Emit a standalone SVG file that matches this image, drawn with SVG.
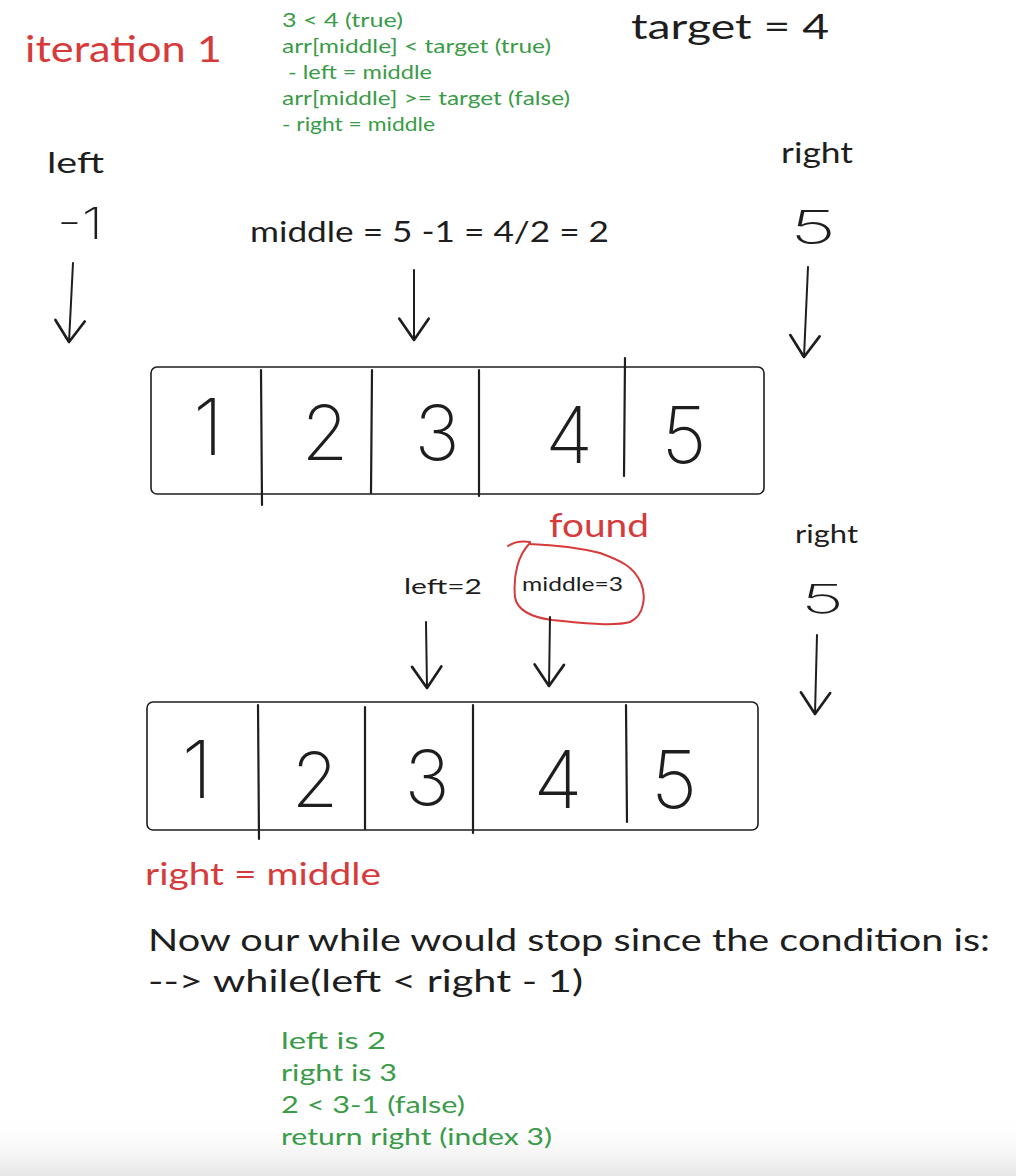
<svg xmlns="http://www.w3.org/2000/svg" width="1016" height="1176" viewBox="0 0 1016 1176">
  <style>
    text { font-family: "Lato", "Noto Sans", "Liberation Sans", sans-serif; }
    .ink { fill: #1e1e1e; }
    .red { fill: #d63a3a; }
    .green { fill: #3a9b48; }
    .digit { font-family: "Inter", "Lato", "Noto Sans", sans-serif; font-weight: 200; fill: #1e1e1e; }
    .box { fill: #ffffff; stroke: #1e1e1e; stroke-width: 1.6; }
    .div { stroke: #1e1e1e; stroke-width: 2.2; stroke-linecap: round; fill: none; }
    .arrow { stroke: #1e1e1e; stroke-width: 2; stroke-linecap: round; fill: none; marker-end: url(#ah); }
  </style>
  <defs>
    <marker id="ah" markerUnits="userSpaceOnUse" markerWidth="40" markerHeight="40" viewBox="-20 -15 25 30" refX="0" refY="0" orient="auto">
      <path d="M-16,-11 L0,0 L-16,11" fill="none" stroke="#1e1e1e" stroke-width="2" stroke-linecap="round" stroke-linejoin="round"/>
    </marker>
    <linearGradient id="shade" x1="0" y1="0" x2="0" y2="1">
      <stop offset="0" stop-color="#ffffff" stop-opacity="0"/>
      <stop offset="1" stop-color="#e6e6e6" stop-opacity="1"/>
    </linearGradient>
  </defs>
  <rect x="0" y="0" width="1016" height="1176" fill="#ffffff"/>
  <rect x="0" y="1115" width="1016" height="61" fill="url(#shade)"/>

  <g id="title">
    <text class="red" x="25" y="62" font-size="36" textLength="197" lengthAdjust="spacingAndGlyphs">iteration 1</text>
  </g>

  <g id="notes-top" font-size="19">
    <text class="green" x="282" y="27" textLength="121" lengthAdjust="spacingAndGlyphs">3 &lt; 4 (true)</text>
    <text class="green" x="282" y="53" textLength="269" lengthAdjust="spacingAndGlyphs">arr[middle] &lt; target (true)</text>
    <text class="green" x="288" y="79" textLength="144" lengthAdjust="spacingAndGlyphs">- left = middle</text>
    <text class="green" x="282" y="105" textLength="288" lengthAdjust="spacingAndGlyphs">arr[middle] &gt;= target (false)</text>
    <text class="green" x="282" y="131" textLength="153" lengthAdjust="spacingAndGlyphs">- right = middle</text>
  </g>

  <g id="target">
    <text class="ink" x="631" y="39" font-size="34" textLength="198" lengthAdjust="spacingAndGlyphs">target = 4</text>
  </g>

  <g id="left-label-1">
    <text class="ink" x="47" y="173" font-size="28" textLength="57" lengthAdjust="spacingAndGlyphs">left</text>
    <text class="digit" x="57" y="239" font-size="44" font-weight="300" textLength="46" lengthAdjust="spacingAndGlyphs">-1</text>
  </g>

  <g id="right-label-1">
    <text class="ink" x="781" y="163" font-size="28" textLength="72" lengthAdjust="spacingAndGlyphs">right</text>
    <text class="digit" x="790" y="244" font-size="46" font-weight="300" textLength="46" lengthAdjust="spacingAndGlyphs">5</text>
  </g>

  <g id="middle-label-1">
    <text class="ink" x="250" y="242" font-size="29" textLength="359" lengthAdjust="spacingAndGlyphs">middle = 5 -1 = 4/2 = 2</text>
  </g>

  <g id="array-1">
    <rect class="box" x="151" y="367" width="613" height="127" rx="6"/>
    <path class="div" d="M261,370 L262,505"/>
    <path class="div" d="M372,370 L371,493"/>
    <path class="div" d="M479,370 L479,496"/>
    <path class="div" d="M625,358 L624,476"/>
    <text class="digit" x="208" y="455" font-size="78" text-anchor="middle">1</text>
    <text class="digit" x="325" y="460" font-size="76" text-anchor="middle">2</text>
    <text class="digit" x="437" y="460" font-size="76" text-anchor="middle">3</text>
    <text class="digit" x="569" y="463" font-size="78" text-anchor="middle">4</text>
    <text class="digit" x="684" y="463" font-size="78" text-anchor="middle">5</text>
  </g>

  <g id="found">
    <text class="red" x="549" y="537" font-size="32" textLength="100" lengthAdjust="spacingAndGlyphs">found</text>
    <path d="M508,546 Q517,540 530,542 M530,543 C518,555 513,575 515,597 C517,610 530,617 552,620 C590,624 615,626 630,622 C645,615 646,595 641,583 C634,567 622,561 600,553 C580,548 555,545 530,544" fill="none" stroke="#d63a3a" stroke-width="2" stroke-linecap="round"/>
  </g>

  <g id="left-label-2">
    <text class="ink" x="404" y="594" font-size="22" textLength="78" lengthAdjust="spacingAndGlyphs">left=2</text>
  </g>

  <g id="middle-label-2">
    <text class="ink" x="522" y="591" font-size="20" textLength="101" lengthAdjust="spacingAndGlyphs">middle=3</text>
  </g>

  <g id="right-label-2">
    <text class="ink" x="795" y="543" font-size="25" textLength="63" lengthAdjust="spacingAndGlyphs">right</text>
    <text class="digit" x="801" y="613" font-size="40" font-weight="300" textLength="43" lengthAdjust="spacingAndGlyphs">5</text>
  </g>

  <g id="array-2">
    <rect class="box" x="147" y="702" width="611" height="128" rx="6"/>
    <path class="div" d="M258,705 L259,839"/>
    <path class="div" d="M365,707 L365,829"/>
    <path class="div" d="M473,705 L473,833"/>
    <path class="div" d="M626,705 L627,822"/>
    <text class="digit" x="197" y="798" font-size="80" text-anchor="middle">1</text>
    <text class="digit" x="315" y="807" font-size="76" text-anchor="middle">2</text>
    <text class="digit" x="427" y="805" font-size="76" text-anchor="middle">3</text>
    <text class="digit" x="558" y="808" font-size="80" text-anchor="middle">4</text>
    <text class="digit" x="674" y="808" font-size="80" text-anchor="middle">5</text>
  </g>

  <g id="right-equals-middle">
    <text class="red" x="145" y="885" font-size="31" textLength="236" lengthAdjust="spacingAndGlyphs">right = middle</text>
  </g>

  <g id="explanation">
    <text class="ink" x="148" y="951" font-size="31" textLength="842" lengthAdjust="spacingAndGlyphs">Now our while would stop since the condition is:</text>
    <text class="ink" x="148" y="992" font-size="31" textLength="435" lengthAdjust="spacingAndGlyphs">--&gt; while(left &lt; right - 1)</text>
  </g>

  <g id="notes-bottom" font-size="24">
    <text class="green" x="281" y="1049" textLength="105" lengthAdjust="spacingAndGlyphs">left is 2</text>
    <text class="green" x="281" y="1081" textLength="116" lengthAdjust="spacingAndGlyphs">right is 3</text>
    <text class="green" x="281" y="1113" textLength="184" lengthAdjust="spacingAndGlyphs">2 &lt; 3-1 (false)</text>
    <text class="green" x="281" y="1145" textLength="271" lengthAdjust="spacingAndGlyphs">return right (index 3)</text>
  </g>

  <g id="connectors">
    <path class="arrow" d="M73,263 L69,342"/>
    <path class="arrow" d="M414,270 L414,340"/>
    <path class="arrow" d="M808,267 L804,357"/>
    <path class="arrow" d="M426,622 L427,688"/>
    <path class="arrow" d="M550,617 L549,686"/>
    <path class="arrow" d="M817,635 L815,714"/>
  </g>
</svg>
